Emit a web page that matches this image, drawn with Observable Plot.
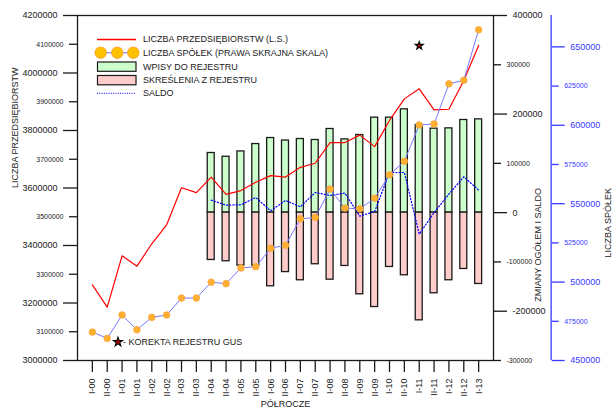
<!DOCTYPE html>
<html>
<head>
<meta charset="utf-8">
<script src="https://cdn.jsdelivr.net/npm/d3@7"></script>
<script src="https://cdn.jsdelivr.net/npm/@observablehq/plot@0.6"></script>
<style>
  body { margin: 0; background: #fff; font-family: "Liberation Sans", Arial, sans-serif; }
  #chart { position: relative; width: 612px; height: 410px; overflow: hidden; }
  #chart svg { position: absolute; left: 0; top: 0; }
  .lt { position: absolute; font-size: 9px; line-height: 10px; color: #1a1a1a; white-space: nowrap; }
</style>
</head>
<body>
<div id="chart"></div>
<script>
// ---- data ----
const periods = ["I-00","II-00","I-01","II-01","I-02","II-02","I-03","II-03","I-04","II-04",
  "I-05","II-05","I-06","II-06","I-07","II-07","I-08","II-08","I-09","II-09",
  "I-10","II-10","I-11","II-11","I-12","II-12","I-13"];
const enterprises = [3263000, 3185500, 3364000, 3328000, 3406000, 3472000, 3601000, 3584000, 3638000, 3578000,
  3591000, 3620000, 3643000, 3638000, 3672000, 3686000, 3758000, 3758000, 3784000, 3744000,
  3835000, 3910000, 3945000, 3872000, 3874000, 3974000, 4096000];
const companies = [468100, 464100, 479000, 469600, 477500, 479000, 489800, 489800, 499900, 499000,
  509000, 509800, 521600, 523500, 540300, 541200, 559300, 547200, 546700, 553500,
  568400, 577000, 600200, 600800, 626400, 628700, 660900];
const flowPeriods = ["I-04","II-04","I-05","II-05","I-06","II-06","I-07","II-07","I-08","II-08",
  "I-09","II-09","I-10","II-10","I-11","II-11","I-12","II-12","I-13"];
const registrations = [121000, 113400, 124200, 139200, 151400, 146300, 149400, 147400, 169700, 148600,
  157500, 192700, 192700, 209600, 177900, 170400, 171000, 188000, 189300];
const deletions = [-96000, -98600, -107500, -107500, -149400, -120600, -137200, -104700, -136000, -108200,
  -165700, -191500, -110200, -127100, -218500, -163600, -137200, -114300, -144700];
const balance = [25400, 15200, 15900, 30700, 3700, 24700, 11800, 40900, 34800, 39600,
  -7100, 2200, 81500, 81500, -43700, 0, 37600, 72800, 45700];
const correctionPeriods = ["I-11"];
const correctionLevels = [4095000];

const leftMajorTicks = [3000000, 3200000, 3400000, 3600000, 3800000, 4000000, 4200000];
const leftMinorTicks = [3100000, 3300000, 3500000, 3700000, 3900000, 4100000];
const flowMajorTicks = [-200000, 0, 200000, 400000];
const flowMinorTicks = [-300000, -100000, 100000, 300000];
const companyMajorTicks = [450000, 500000, 550000, 600000, 650000];
const companyMinorTicks = [475000, 525000, 575000, 625000];

const titles = {
  left: "LICZBA PRZEDSIĘBIORSTW",
  flows: "ZMIANY OGÓŁEM I SALDO",
  companies: "LICZBA SPÓŁEK",
  x: "PÓŁROCZE",
  correction: "- KOREKTA REJESTRU GUS"
};
const legendLabels = ["LICZBA PRZEDSIĘBIORSTW (L.S.)", "LICZBA SPÓŁEK (PRAWA SKRAJNA SKALA)",
  "WPISY DO REJESTRU", "SKREŚLENIA Z REJESTRU", "SALDO"];

// ---- tables ----
const enterpriseRows = periods.map((p, i) => ({period: p, value: enterprises[i]}));
const companyRows = periods.map((p, i) => ({period: p, value: companies[i]}));
const flowRows = flowPeriods.map((p, i) => ({period: p, reg: registrations[i], del: deletions[i], bal: balance[i]}));
const correctionRows = correctionPeriods.map((p, i) => ({period: p, level: correctionLevels[i]}));

const ink = "#1a1a1a";
const blueAxis = "#3838ff";
const fmt = d => String(d);
const common = {
  width: 612, height: 410,
  marginLeft: 77, marginRight: 119, marginTop: 15, marginBottom: 50,
  style: {background: "transparent", fontFamily: "'Liberation Sans', Arial, sans-serif", color: ink, overflow: "visible"}
};
const xScale = () => ({type: "band", domain: periods, paddingInner: 0.53, paddingOuter: 0.765, round: false, axis: null});

// Layer 1: flows (inner right axis)
const flowsPlot = Plot.plot({
  ...common,
  x: xScale(),
  y: {domain: [-300000, 400000], axis: null},
  marks: [
    Plot.barY(flowRows, {x: "period", y1: 0, y2: "reg", fill: "#ccffcc", stroke: ink, strokeWidth: 1.3}),
    Plot.barY(flowRows, {x: "period", y1: 0, y2: "del", fill: "#ffcccc", stroke: ink, strokeWidth: 1.3}),
    Plot.line(flowRows, {x: "period", y: "bal", stroke: "#0000ff", strokeWidth: 1.2, strokeDasharray: "1.2,2"}),
    Plot.axisY(flowMajorTicks, {anchor: "right", tickSize: 13, tickPadding: 6, fontSize: 9, tickFormat: fmt, color: ink, strokeWidth: 1.3, label: null}),
    Plot.axisY(flowMinorTicks, {anchor: "right", tickSize: 7, tickPadding: 6, fontSize: 7, tickFormat: fmt, color: ink, strokeWidth: 1.3, label: null}),
    Plot.text([titles.flows], {text: d => d, frameAnchor: "right", dx: 45, rotate: -90, fontSize: 9, fill: ink})
  ]
});

// Layer 2: enterprises (left axis), frame, x axis
const mainPlot = Plot.plot({
  ...common,
  x: xScale(),
  y: {domain: [3000000, 4200000], axis: null},
  marks: [
    Plot.frame({stroke: ink, strokeWidth: 1.3}),
    Plot.line(enterpriseRows, {x: "period", y: "value", stroke: "#ff0000", strokeWidth: 1.2}),
    Plot.dot(correctionRows, {x: "period", y: "level", symbol: "star", r: 2.5, fill: "#bb0000", stroke: "#000", strokeWidth: 1.1}),
    Plot.axisX({tickRotate: -90, tickSize: 12, tickPadding: 6, fontSize: 9, color: ink, strokeWidth: 1.3, label: null}),
    Plot.axisY(leftMajorTicks, {anchor: "left", tickSize: 14, tickPadding: 6, fontSize: 9, tickFormat: fmt, color: ink, strokeWidth: 1.3, label: null}),
    Plot.axisY(leftMinorTicks, {anchor: "left", tickSize: 8, tickPadding: 6, fontSize: 7, tickFormat: fmt, color: ink, strokeWidth: 1.3, label: null}),
    Plot.text([titles.left], {text: d => d, frameAnchor: "left", dx: -62, rotate: -90, fontSize: 9, fill: ink}),
    Plot.text([titles.x], {text: d => d, frameAnchor: "bottom", dy: 46, fontSize: 9, fill: ink})
  ]
});

// Layer 3: companies (outer blue axis)
const companyPlot = Plot.plot({
  ...common,
  x: xScale(),
  y: {domain: [450000, 670000], axis: null},
  marks: [
    Plot.ruleX(["I-13"], {dx: 72.5, stroke: blueAxis, strokeWidth: 1.3}),
    Plot.line(companyRows, {x: "period", y: "value", stroke: "#7878ff", strokeWidth: 1}),
    Plot.dot(companyRows, {x: "period", y: "value", r: 3.3, fill: "#ffb02e", stroke: "#f7a540", strokeWidth: 0.8}),
    Plot.axisY(companyMajorTicks, {anchor: "right", dx: 57.7, tickSize: 13, tickPadding: 6, fontSize: 9, tickFormat: fmt, color: blueAxis, strokeWidth: 1.3, label: null}),
    Plot.axisY(companyMinorTicks, {anchor: "right", dx: 57.7, tickSize: 7, tickPadding: 6, fontSize: 7, tickFormat: fmt, color: blueAxis, strokeWidth: 1.3, label: null}),
    Plot.text([titles.companies], {text: d => d, frameAnchor: "right", dx: 115, rotate: -90, fontSize: 9, fill: ink})
  ]
});

const chart = document.getElementById("chart");
chart.appendChild(flowsPlot);
chart.appendChild(mainPlot);
chart.appendChild(companyPlot);

// ---- legend ----
const NS = "http://www.w3.org/2000/svg";
const lg = document.createElementNS(NS, "svg");
lg.setAttribute("width", 612); lg.setAttribute("height", 410);
lg.style.pointerEvents = "none";
function el(tag, attrs) {
  const e = document.createElementNS(NS, tag);
  for (const k in attrs) e.setAttribute(k, attrs[k]);
  lg.appendChild(e);
  return e;
}
el("line", {x1: 97, x2: 136, y1: 39.5, y2: 39.5, stroke: "#ff0000", "stroke-width": 1.3});
el("line", {x1: 101, x2: 133, y1: 52.7, y2: 52.7, stroke: "#8080ff", "stroke-width": 1.2});
[100.7, 117.3, 133.3].forEach(cx => el("circle", {cx, cy: 52.7, r: 5.8, fill: "#ffc000", stroke: "#f5a030", "stroke-width": 0.8}));
el("rect", {x: 97.5, y: 62, width: 38.5, height: 9.3, fill: "#ccffcc", stroke: ink, "stroke-width": 1.2});
el("rect", {x: 97.5, y: 75.5, width: 38.5, height: 9.3, fill: "#ffcccc", stroke: ink, "stroke-width": 1.2});
el("line", {x1: 97, x2: 136, y1: 93.3, y2: 93.3, stroke: "#0000ff", "stroke-width": 1, "stroke-dasharray": "1,1.3"});
el("path", {d: d3.symbol(d3.symbolStar, 26)(), transform: "translate(118,342)", fill: "#bb0000", stroke: "#000", "stroke-width": 1.1});
chart.appendChild(lg);
const rowsY = [39.3, 52.7, 66.5, 80, 93.3];
legendLabels.forEach((t, i) => {
  const d = document.createElement("div");
  d.className = "lt";
  d.textContent = t;
  d.style.left = "143px";
  d.style.top = (rowsY[i] - 5) + "px";
  chart.appendChild(d);
});
const corr = document.createElement("div");
corr.className = "lt";
corr.textContent = titles.correction;
corr.style.left = "123px";
corr.style.top = "337px";
chart.appendChild(corr);
</script>
</body>
</html>
